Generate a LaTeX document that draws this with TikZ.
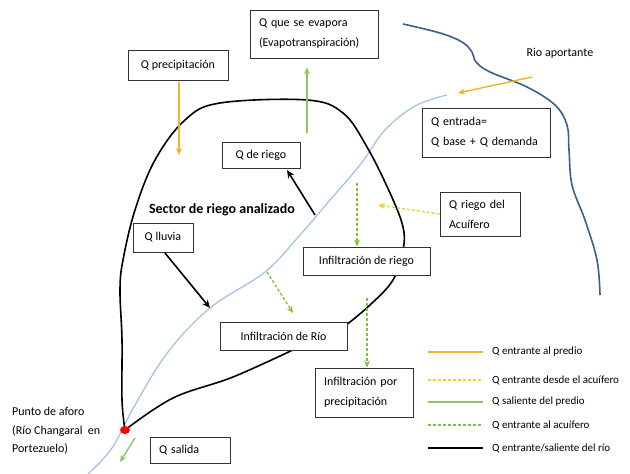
\documentclass[tikz,border=0pt]{standalone}
\usepackage{fontspec}
\setmainfont{Carlito}
\usetikzlibrary{arrows.meta}
\definecolor{gold}{HTML}{F2B226}
\definecolor{ydash}{HTML}{E8D530}
\definecolor{lgreen}{HTML}{8CC46A}
\definecolor{gdash}{HTML}{84BE40}
\definecolor{lblue}{HTML}{A3C4E6}
\definecolor{dblue}{HTML}{3A5F8F}
\definecolor{boxline}{HTML}{333333}
\tikzset{
  bx/.style={draw=boxline,line width=1pt,fill=white,inner xsep=9pt,inner ysep=2pt,font=\fontsize{12}{20}\selectfont,align=left},
  lbl/.style={font=\fontsize{12}{20}\selectfont,align=left,inner sep=0pt},
  lgtxt/.style={font=\fontsize{11}{13}\selectfont,inner sep=0pt},
  shortdash/.style={dash pattern=on 3pt off 2pt},
  goldarr/.style={gold,line width=1.4pt,-{Stealth[length=7pt,width=6pt]}},
  ydarr/.style={ydash,line width=1.4pt,shortdash,-{Stealth[length=7pt,width=6pt]}},
  garr/.style={lgreen,line width=1.4pt,-{Stealth[length=7pt,width=6pt]}},
  gdarr/.style={gdash,line width=1.3pt,shortdash,-{Stealth[length=7pt,width=6pt]}},
  blarr/.style={black,line width=1.6pt,-{Stealth[length=8pt,width=7pt]}},
  blob/.style={black,line width=1.6pt},
  lgA/.style={gold,line width=1.5pt},
  lgB/.style={ydash,line width=1.5pt,shortdash},
  lgC/.style={lgreen,line width=1.5pt},
  lgD/.style={gdash,line width=1.3pt,shortdash},
  lgE/.style={black,line width=2.2pt},
}
\begin{document}
\begin{tikzpicture}[x=1pt,y=-1pt]
\useasboundingbox (0,0) rectangle (630,474);
% rivers
\draw[lblue,line width=1.3pt] plot[smooth,tension=0.6] coordinates {(447,95) (415,106) (385,130) (360,165) (330,200) (300,235) (265,272) (210,308) (168,352) (135,405) (112,448) (88,474)};
\draw[dblue,line width=1.6pt] plot[smooth,tension=0.6] coordinates {(403,24) (440,33) (462,42) (472,52) (476,62) (490,72) (527,87) (555,105) (567,125) (569,150) (572,185) (585,220) (597,260) (600,295)};
% blob (sector)
\coordinate (aforo) at (125,430);
\draw[blob] plot[smooth,tension=0.6] coordinates {(125,430) (122,400) (122,340) (120,290) (123,260) (135,210) (155,160) (185,120) (220,103) (307,100) (343,113) (367,147) (390,193) (403,227) (403,250) (393,280) (370,305) (345,326)};
\draw[blob] plot[smooth,tension=0.6] coordinates {(297,348) (233,377) (173,398) (125,430)};
% boxes
\node[bx,minimum width=128pt,minimum height=48pt,text width=110pt] (evap) at (314,34) {Q que se evapora\\(Evapotranspiración)};
\node[bx,minimum width=100pt,minimum height=30pt,align=center] (precip) at (178,65) {Q precipitación};
\node[bx,minimum width=128pt,minimum height=49pt,text width=110pt] (entrada) at (486,132.5) {Q entrada=\\Q base + Q demanda};
\node[bx,minimum width=80pt,minimum height=44pt,text width=62pt] (acuif) at (480,214) {Q riego del\\Acuífero};
\node[bx,minimum width=78pt,minimum height=26pt,align=center] (deriego) at (261,155) {Q de riego};
\node[bx,minimum width=60pt,minimum height=29pt,inner xsep=4pt,align=center] (lluvia) at (163,237.5) {Q lluvia};
\node[bx,minimum width=127pt,minimum height=28pt,inner xsep=4pt,align=center] (infriego) at (366.5,261) {Infiltración de riego};
\node[bx,minimum width=127pt,minimum height=28pt,inner xsep=4pt,align=center] (infrio) at (283.5,336) {Infiltración de Río};
\node[bx,minimum width=98pt,minimum height=49pt,text width=80pt] (infprec) at (364,392.5) {Infiltración por\\precipitación};
\node[bx,minimum width=80pt,minimum height=26pt,text width=62pt] (salida) at (190,450) {Q salida};
% texts
\node[lbl] (rio) at (560,53) {Rio aportante};
\node[lbl,font=\fontsize{14}{16}\selectfont\bfseries] (sector) at (222,210) {Sector de riego analizado};
\node[lbl,anchor=north west,font=\fontsize{12}{18.5}\selectfont] (punto) at (12,407) {Punto de aforo\\(Río Changaral\ \ en\\Portezuelo)};
% arrows
\coordinate (p1) at (179,82);
\draw[goldarr] (p1) -- (179,155);
\coordinate (e1) at (307,133);
\draw[garr] (e1) -- ([yshift=-9pt]evap.south -| e1);
\coordinate (r1) at (532,77);
\draw[goldarr] (r1) -- (458,93);
\draw[ydarr] (acuif.west) -- (378,205);
\coordinate (b1) at (315,215);
\draw[blarr] (b1) -- (287,170);
\coordinate (b2) at (165,253);
\draw[blarr] (b2) -- (210,308);
\coordinate (g1) at (357,183);
\draw[gdarr] (g1) -- (infriego.north -| g1);
\coordinate (g2) at (267,272);
\draw[gdarr] (g2) -- (293,313);
\coordinate (g3) at (367,298);
\draw[gdarr] (g3) -- (infprec.north -| g3);
\coordinate (s1) at (135,438);
\draw[garr] (s1) -- (120,462);
\fill[red] (aforo) ellipse (5pt and 4pt);
% legend
\foreach \y/\st/\txt [count=\i] in {352/lgA/{Q entrante al predio},
  380/lgB/{Q entrante desde el acuífero},
  402/lgC/{Q saliente del predio},
  425/lgD/{Q entrante al acuífero},
  448/lgE/{Q entrante/saliente del río}}{
  \coordinate (la\i) at (428,\y);
  \coordinate (lb\i) at (483,\y);
  \draw[\st] (la\i) -- (lb\i);
  \node[lgtxt,anchor=west] (lt\i) at (492,\y) {\txt};
}
\end{tikzpicture}
\end{document}
